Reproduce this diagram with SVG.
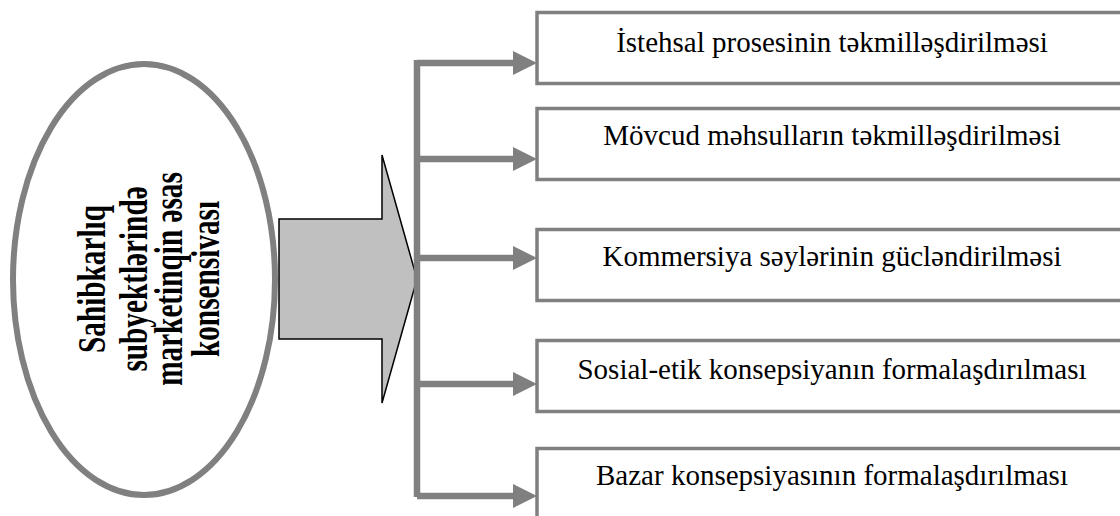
<svg xmlns="http://www.w3.org/2000/svg" width="1120" height="516" viewBox="0 0 1120 516">
<style>
.box{fill:#fff;stroke:#808080;stroke-width:3.5}
.lbl{font-family:"Liberation Serif","DejaVu Serif",serif;font-size:29px;fill:#000;text-anchor:middle}
.ell{font-family:"Liberation Serif","DejaVu Serif",serif;font-size:39px;font-weight:bold;fill:#000;text-anchor:middle}
.con{stroke:#808080;stroke-width:6.5;fill:none}
.head{fill:#808080}
</style>
<rect width="1120" height="516" fill="#fff"/>
<g id="source">
<ellipse cx="144" cy="279.5" rx="131" ry="215.5" fill="#fff" stroke="#808080" stroke-width="6"/>
<text class="ell" transform="translate(105,279) rotate(-90) scale(0.75,1)">Sahibkarlıq</text>
<text class="ell" transform="translate(147,279) rotate(-90) scale(0.75,1)">subyektlərində</text>
<text class="ell" transform="translate(182,279) rotate(-90) scale(0.75,1)">marketinqin əsas</text>
<text class="ell" transform="translate(219,279) rotate(-90) scale(0.75,1)">konsensivası</text>
</g>
<g id="big-arrow">
<polygon points="279,219 382,219 382,155 417,279 382,403 382,339 279,339" fill="#c0c0c0" stroke="#000" stroke-width="1.5" stroke-linejoin="miter"/>
</g>
<g id="connectors">
<path class="con" d="M417,60 V497"/>
<path class="con" d="M417,63 H514 M417,159 H514 M417,258 H514 M417,384 H514 M417,496 H514"/>
<polygon class="head" points="513,51 537,63 513,75"/>
<polygon class="head" points="513,147 537,159 513,171"/>
<polygon class="head" points="513,246 537,258 513,270"/>
<polygon class="head" points="513,372 537,384 513,396"/>
<polygon class="head" points="513,484 537,496 513,508"/>
</g>
<g id="n1"><rect class="box" x="537" y="12.5" width="600" height="71"/><text class="lbl" x="832" y="52">İstehsal prosesinin təkmilləşdirilməsi</text></g>
<g id="n2"><rect class="box" x="537" y="108.5" width="600" height="71"/><text class="lbl" x="832" y="145">Mövcud məhsulların təkmilləşdirilməsi</text></g>
<g id="n3"><rect class="box" x="537" y="229.5" width="600" height="71"/><text class="lbl" x="832" y="266">Kommersiya səylərinin gücləndirilməsi</text></g>
<g id="n4"><rect class="box" x="537" y="340.5" width="600" height="71"/><text class="lbl" x="832" y="379">Sosial-etik konsepsiyanın formalaşdırılması</text></g>
<g id="n5"><rect class="box" x="537" y="448.5" width="600" height="80"/><text class="lbl" x="832" y="485">Bazar konsepsiyasının formalaşdırılması</text></g>
</svg>
